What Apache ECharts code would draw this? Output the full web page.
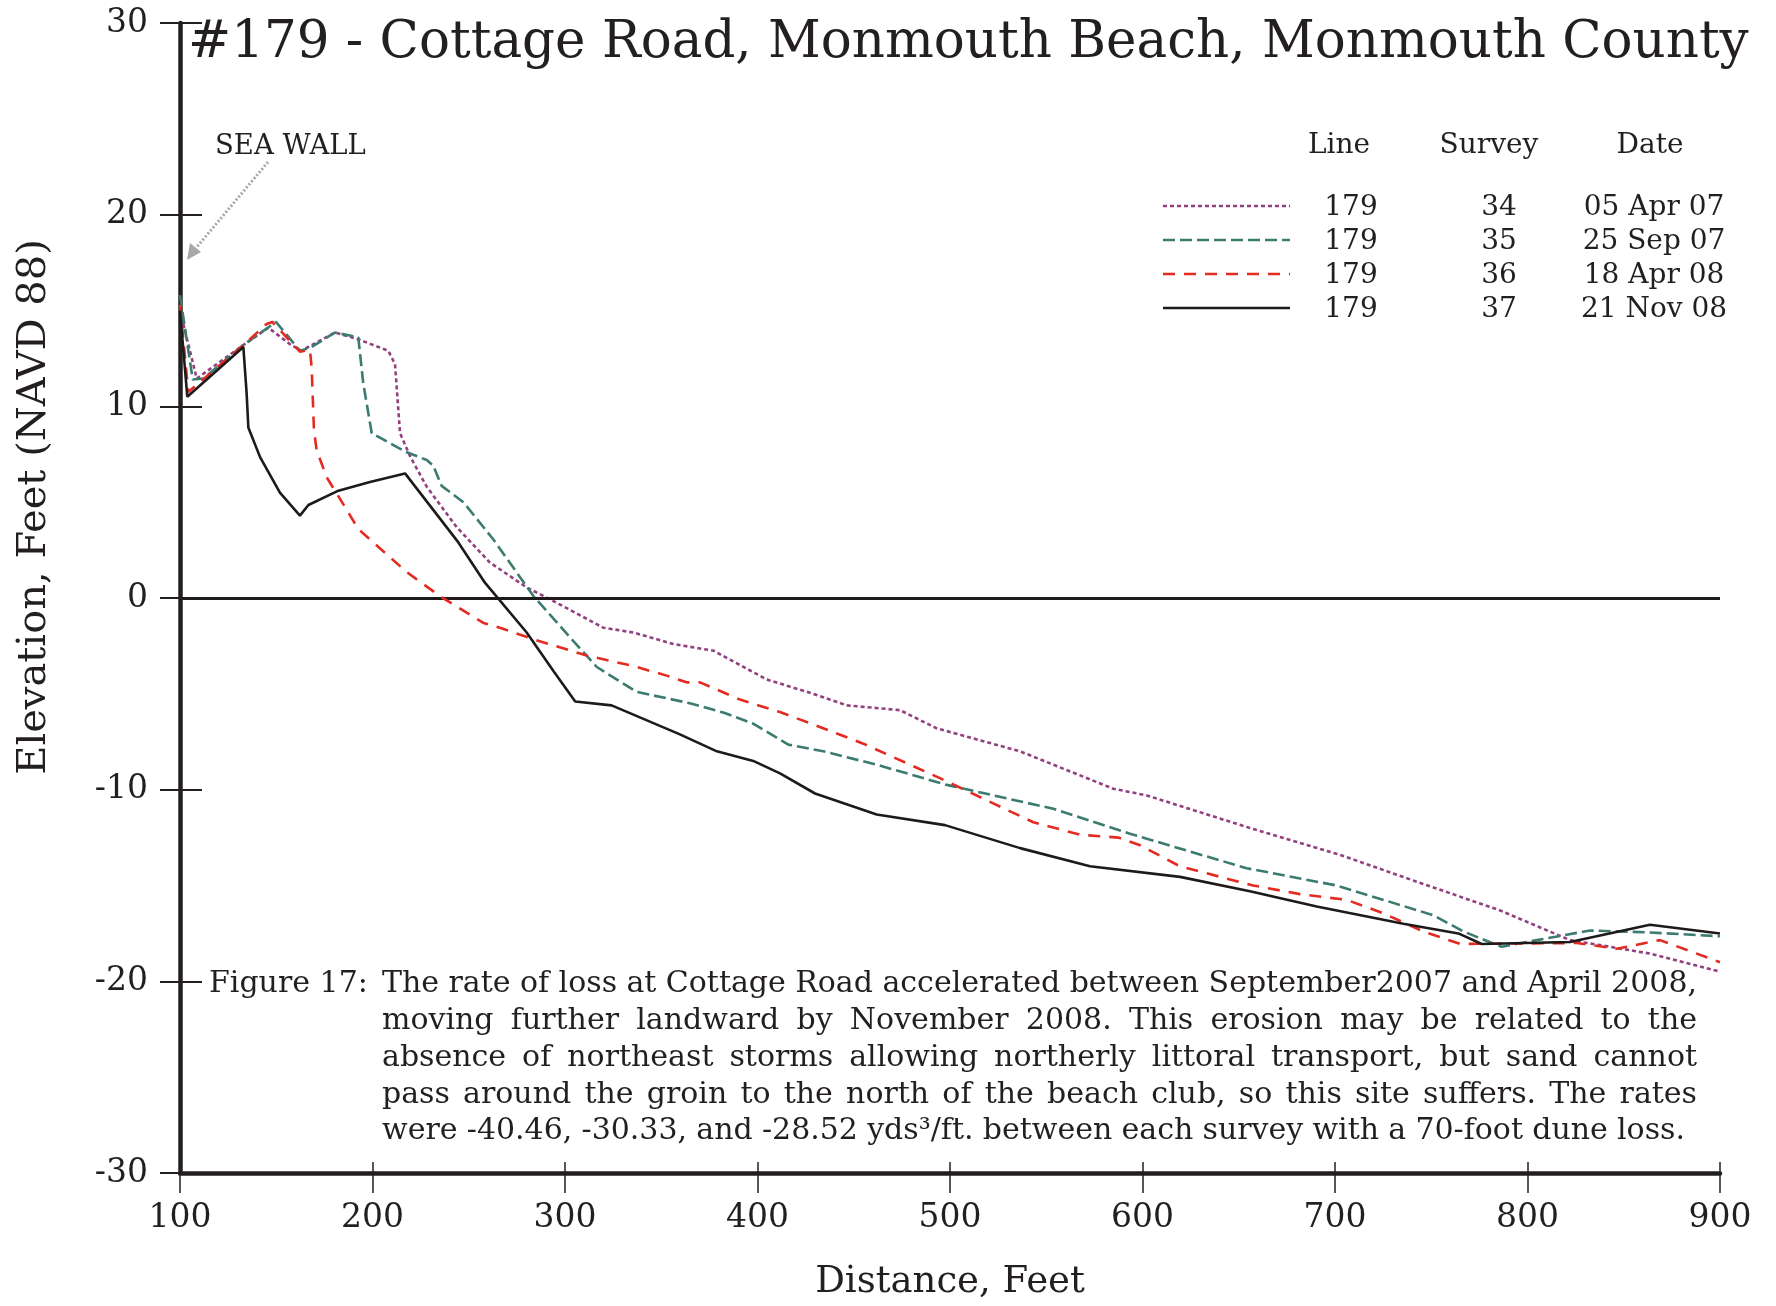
<!DOCTYPE html>
<html>
<head>
<meta charset="utf-8">
<title>#179 - Cottage Road, Monmouth Beach</title>
<script src="https://cdn.jsdelivr.net/npm/echarts@6.0.0/dist/echarts.min.js"></script>
<style>
  html, body { margin: 0; padding: 0; background: #fff; }
  #chart { width: 1776px; height: 1306px; }
</style>
</head>
<body>
<div id="chart"></div>
<script>
// profile points: [distance ft, elevation ft]
var survey34 = [[100, 15.0], [108.7, 11.45], [132.9, 13.2], [145.9, 14.1], [157, 13.25], [163, 12.9], [180.5, 13.85], [192.6, 13.5], [208.2, 12.9], [211.7, 12.2], [214.3, 8.6], [219.5, 7.4], [228.2, 5.8], [243.7, 3.7], [261, 1.85], [280.1, 0.55], [295.7, -0.25], [319.9, -1.55], [335.5, -1.8], [356.3, -2.4], [377.1, -2.75], [404.8, -4.25], [429, -5.0], [446.3, -5.6], [474, -5.85], [493.1, -6.8], [536.4, -8.0], [584.8, -9.95], [602.2, -10.3], [655.8, -12.0], [702.6, -13.4], [742.4, -14.8], [785.7, -16.3], [822.1, -17.85], [863.6, -18.55], [900, -19.5]];
var survey35 = [[100, 15.8], [106.6, 11.4], [112.1, 11.45], [132.9, 13.2], [149.9, 14.4], [162.3, 12.9], [167.5, 13.05], [180.5, 13.85], [192.6, 13.6], [195.2, 11.2], [199.6, 8.6], [217.8, 7.6], [228.2, 7.2], [231.6, 6.9], [235.9, 5.85], [247.2, 5.0], [262.8, 3.05], [283.6, 0.1], [302.6, -2.05], [316.5, -3.6], [337.2, -4.9], [365.4, -5.5], [383, -6.0], [397.7, -6.55], [416, -7.65], [434.2, -8.0], [462, -8.7], [498.3, -9.75], [553.7, -11.0], [593.5, -12.3], [654.1, -14.1], [700.9, -15.0], [751.1, -16.55], [766.7, -17.4], [786.6, -18.2], [804.8, -17.85], [832.5, -17.35], [863.6, -17.45], [900, -17.65]];
var survey36 = [[100, 15.3], [104.3, 10.75], [133, 13.2], [145, 14.3], [148, 14.4], [162.3, 12.85], [167.5, 12.95], [168.4, 12.0], [169.6, 8.75], [171, 7.7], [176.2, 6.3], [184.8, 4.9], [192.6, 3.6], [217.8, 1.35], [235, 0.1], [257.6, -1.3], [266.2, -1.55], [283.5, -2.15], [311.3, -3.0], [335.5, -3.55], [352.8, -4.05], [363.2, -4.4], [370.1, -4.4], [390.9, -5.3], [411.7, -5.95], [429, -6.6], [455, -7.6], [494.8, -9.4], [519, -10.55], [543.3, -11.7], [567.5, -12.35], [587.4, -12.5], [598.7, -12.9], [619.5, -14.0], [657.5, -15.0], [681.8, -15.45], [706.1, -15.75], [725.1, -16.45], [745.9, -17.4], [765, -18.05], [825.5, -18.0], [846.3, -18.3], [868.8, -17.85], [900, -19.0]];
var survey37 = [[100, 15.0], [103.8, 10.5], [132.9, 13.1], [134.6, 10.7], [135.5, 8.9], [141.6, 7.35], [151.9, 5.5], [162.3, 4.3], [166.7, 4.85], [182.3, 5.6], [198.7, 6.05], [216.9, 6.5], [244.6, 2.9], [258.4, 0.8], [280.1, -1.8], [293.9, -3.8], [305.3, -5.4], [324.2, -5.6], [359.4, -7.1], [378.9, -8.0], [397.8, -8.5], [411.7, -9.15], [429.9, -10.2], [461.9, -11.3], [497.4, -11.85], [536.4, -13.05], [572.7, -14.0], [619.5, -14.55], [655.8, -15.3], [690.5, -16.1], [735.5, -17.0], [764.1, -17.5], [776.2, -18.05], [822.1, -17.95], [863.6, -17.05], [900, -17.5]];

var lineNo = ['179', '179', '179', '179'];
var surveyNo = ['34', '35', '36', '37'];
var surveyDate = ['05 Apr 07', '25 Sep 07', '18 Apr 08', '21 Nov 08'];

var titleText = '#179 - Cottage Road, Monmouth Beach, Monmouth County';
var captionLines = [
  'The rate of loss at Cottage Road accelerated between September2007  and April 2008,',
  'moving further landward by November 2008.  This erosion may be related to the',
  'absence of northeast storms allowing northerly littoral transport, but sand cannot',
  'pass around the groin to the north of the beach club, so this site suffers.  The rates',
  'were -40.46, -30.33, and -28.52 yds\u00b3/ft. between each survey with a 70-foot dune loss.'
];

var FONT = '"DejaVu Serif", "Liberation Serif", serif';
var INK = '#231f20';
var styles = [
  { color: '#93407f', type: [4, 3], width: 2.6 },
  { color: '#3b7b70', type: [12, 5], width: 2.6 },
  { color: '#e32b22', type: [12, 9], width: 2.6 },
  { color: '#1e1a1a', type: 'solid', width: 2.6 }
];
var seriesData = [survey34, survey35, survey36, survey37];

var myChart = echarts.init(document.getElementById('chart'));

// legend table
var graphics = [];
var rowY = [208, 242, 276, 310];
graphics.push({ type: 'text', x: 1339, y: 146, style: { text: 'Line', font: '28px ' + FONT, fill: INK, align: 'center', verticalAlign: 'middle' } });
graphics.push({ type: 'text', x: 1489, y: 146, style: { text: 'Survey', font: '28px ' + FONT, fill: INK, align: 'center', verticalAlign: 'middle' } });
graphics.push({ type: 'text', x: 1650, y: 146, style: { text: 'Date', font: '28px ' + FONT, fill: INK, align: 'center', verticalAlign: 'middle' } });
for (var i = 0; i < 4; i++) {
  graphics.push({
    type: 'line', shape: { x1: 1163, y1: rowY[i] - 2, x2: 1290, y2: rowY[i] - 2 },
    style: { stroke: styles[i].color, lineWidth: styles[i].width, lineDash: styles[i].type === 'solid' ? null : styles[i].type }
  });
  graphics.push({ type: 'text', x: 1351, y: rowY[i], style: { text: lineNo[i], font: '28px ' + FONT, fill: INK, align: 'center', verticalAlign: 'middle' } });
  graphics.push({ type: 'text', x: 1499, y: rowY[i], style: { text: surveyNo[i], font: '28px ' + FONT, fill: INK, align: 'center', verticalAlign: 'middle' } });
  graphics.push({ type: 'text', x: 1654, y: rowY[i], style: { text: surveyDate[i], font: '28px ' + FONT, fill: INK, align: 'center', verticalAlign: 'middle' } });
}

// sea wall note
graphics.push({ type: 'text', x: 215, y: 147, style: { text: 'SEA WALL', font: '27.5px ' + FONT, fill: INK, align: 'left', verticalAlign: 'middle' } });
graphics.push({ type: 'line', shape: { x1: 268, y1: 162, x2: 196, y2: 248 }, style: { stroke: '#a8a8a8', lineWidth: 3, lineDash: [2, 2] } });
graphics.push({ type: 'polygon', shape: { points: [[187, 260], [190, 243], [201, 252]] }, style: { fill: '#a8a8a8' } });

// y axis title
graphics.push({ type: 'text', x: 35, y: 507, rotation: Math.PI / 2, style: { text: 'Elevation, Feet (NAVD 88)', font: '40px ' + FONT, fill: INK, align: 'center', verticalAlign: 'middle' } });

// caption, justified like the printed figure
var capFont = '30px ' + FONT;
graphics.push({ type: 'text', x: 209, y: 984, style: { text: 'Figure 17:', font: capFont, fill: INK, align: 'left', verticalAlign: 'middle' } });
var ctx = document.createElement('canvas').getContext('2d');
ctx.font = capFont;
var capLeft = 382, capY = [984, 1021, 1058, 1095, 1131];
var capRight = [1697, 1697, 1697, 1697, 1685];
var spaceW = ctx.measureText(' ').width;
captionLines.forEach(function (line, li) {
  var words = line.split(/\s+/);
  var total = 0;
  words.forEach(function (w) { total += ctx.measureText(w).width; });
  var gap = (capRight[li] - capLeft - total) / (words.length - 1);
  gap = Math.max(gap, spaceW * 0.45);
  var x = capLeft;
  words.forEach(function (w) {
    graphics.push({ type: 'text', x: x, y: capY[li], style: { text: w, font: capFont, fill: INK, align: 'left', verticalAlign: 'middle' } });
    x += ctx.measureText(w).width + gap;
  });
});

var series = seriesData.map(function (d, i) {
  return {
    name: surveyDate[i],
    type: 'line',
    data: d,
    symbol: 'none',
    smooth: false,
    silent: true,
    lineStyle: styles[i],
    z: 3 + i
  };
});
series[3].markLine = {
  silent: true,
  symbol: 'none',
  label: { show: false },
  lineStyle: { color: '#1e1a1a', type: 'solid', width: 3 },
  data: [{ yAxis: 0 }]
};

var option = {
  animation: false,
  backgroundColor: '#fff',
  title: {
    text: titleText,
    left: 188,
    top: 18,
    padding: 0,
    textStyle: { fontFamily: FONT, fontSize: 51.5, fontWeight: 'normal', color: INK }
  },
  grid: { left: 180, right: 56, top: 23, bottom: 133, containLabel: false },
  xAxis: [{
    type: 'value', min: 100, max: 900, interval: 100,
    name: 'Distance, Feet', nameLocation: 'middle', nameGap: 91,
    nameTextStyle: { fontFamily: FONT, fontSize: 37, color: INK },
    axisLine: { onZero: false, lineStyle: { color: INK, width: 4.5 } },
    axisTick: { inside: false, length: 20, lineStyle: { color: INK, width: 1.5 } },
    axisLabel: { fontFamily: FONT, fontSize: 33, color: INK, margin: 29 },
    splitLine: { show: false }
  }, {
    type: 'value', min: 100, max: 900, interval: 100, position: 'bottom',
    axisLine: { show: false, onZero: false },
    axisTick: { inside: true, length: 11, lineStyle: { color: INK, width: 1.5 } },
    axisLabel: { show: false },
    splitLine: { show: false }
  }],
  yAxis: [{
    type: 'value', min: -30, max: 30, interval: 10,
    axisLine: { onZero: false, lineStyle: { color: INK, width: 4.5 } },
    axisTick: { inside: false, length: 20, lineStyle: { color: INK, width: 2 } },
    axisLabel: { fontFamily: FONT, fontSize: 33, color: INK, margin: 32 },
    splitLine: { show: false }
  }, {
    type: 'value', min: -30, max: 30, interval: 10, position: 'left',
    axisLine: { show: false, onZero: false },
    axisTick: { inside: true, length: 22, lineStyle: { color: INK, width: 2 } },
    axisLabel: { show: false },
    splitLine: { show: false }
  }],
  series: series,
  graphic: graphics
};

myChart.setOption(option);
window.addEventListener('resize', function () { myChart.resize(); });
</script>
</body>
</html>
